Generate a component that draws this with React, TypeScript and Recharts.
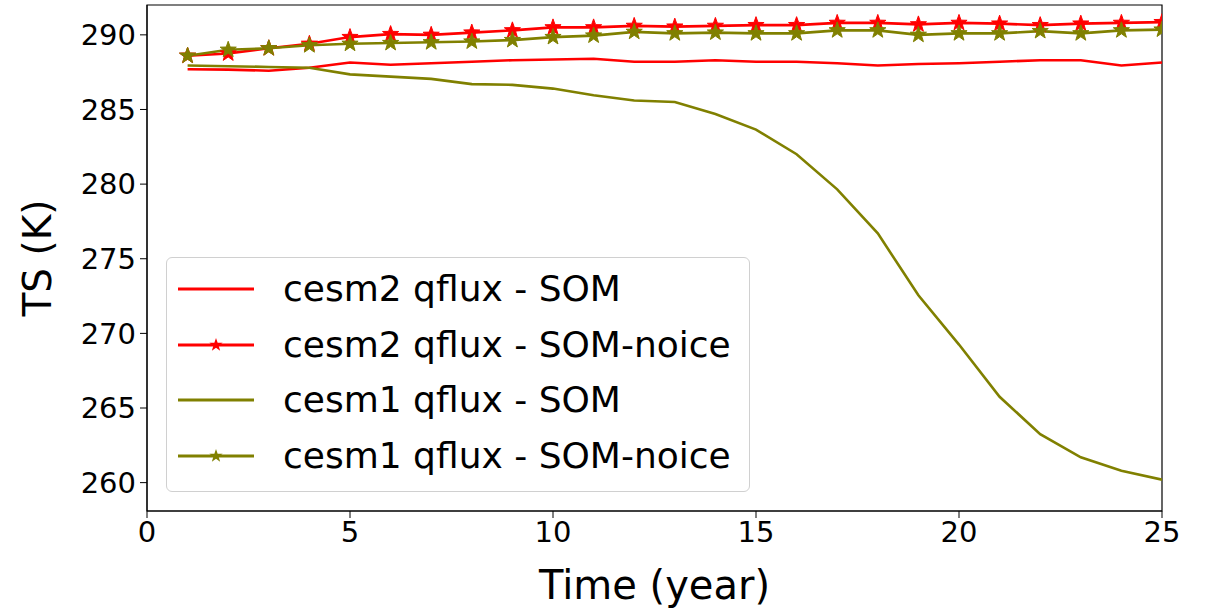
import React from 'react';
import { LineChart, Line, XAxis, YAxis, Legend, ReferenceArea } from 'recharts';

// 年份 (x)
const years = [1, 2, 3, 4, 5, 6, 7, 8, 9, 10, 11, 12, 13, 14, 15, 16, 17, 18, 19, 20, 21, 22, 23, 24, 25];

// TS (K) 各序列
const cesm2Som = [287.7, 287.67, 287.6, 287.8, 288.15, 288.0, 288.1, 288.2, 288.3, 288.35, 288.4, 288.2, 288.2, 288.3, 288.2, 288.2, 288.1, 287.95, 288.05, 288.1, 288.2, 288.3, 288.3, 287.95, 288.15];
const cesm2Noice = [288.6, 288.75, 289.1, 289.4, 289.85, 290.05, 290.0, 290.15, 290.3, 290.5, 290.5, 290.6, 290.55, 290.6, 290.65, 290.65, 290.8, 290.8, 290.7, 290.8, 290.75, 290.65, 290.75, 290.8, 290.85];
const cesm1Som = [287.95, 287.9, 287.85, 287.8, 287.35, 287.2, 287.05, 286.7, 286.65, 286.4, 285.95, 285.6, 285.5, 284.7, 283.65, 282.0, 279.65, 276.7, 272.55, 269.25, 265.75, 263.25, 261.7, 260.8, 260.2];
const cesm1Noice = [288.6, 289.0, 289.1, 289.3, 289.4, 289.45, 289.5, 289.55, 289.65, 289.85, 289.95, 290.2, 290.1, 290.15, 290.1, 290.1, 290.3, 290.3, 290.0, 290.1, 290.1, 290.25, 290.1, 290.3, 290.35];

const xTicks = [0, 5, 10, 15, 20, 25];
const yTicks = [260, 265, 270, 275, 280, 285, 290];
const Y_MIN = 258.1;
const Y_MAX = 292;

const RED = '#ff0000';
const OLIVE = '#808000';
const FONT = 'DejaVu Sans';

const SERIES = [
  { key: 'cesm2Som', name: 'cesm2 qflux - SOM', color: RED, star: false },
  { key: 'cesm2Noice', name: 'cesm2 qflux - SOM-noice', color: RED, star: true },
  { key: 'cesm1Som', name: 'cesm1 qflux - SOM', color: OLIVE, star: false },
  { key: 'cesm1Noice', name: 'cesm1 qflux - SOM-noice', color: OLIVE, star: true },
];

const chartData = years.map((year, i) => ({
  year,
  cesm2Som: cesm2Som[i],
  cesm2Noice: cesm2Noice[i],
  cesm1Som: cesm1Som[i],
  cesm1Noice: cesm1Noice[i],
}));

// 五角星标记 (matplotlib '*')
function starPoints(cx: number, cy: number, r: number) {
  const inner = r * 0.4;
  const pts: string[] = [];
  for (let k = 0; k < 10; k++) {
    const rad = k % 2 === 0 ? r : inner;
    const a = -Math.PI / 2 + (k * Math.PI) / 5;
    pts.push(`${cx + rad * Math.cos(a)},${cy + rad * Math.sin(a)}`);
  }
  return pts.join(' ');
}

function makeStarDot(color: string) {
  return (props: any) => {
    const { cx, cy, index } = props;
    if (cx == null || cy == null) return <g key={`s-${index}`} />;
    return (
      <polygon
        key={`s-${index}`}
        points={starPoints(cx, cy, 8.5)}
        fill={color}
        stroke={color}
        strokeWidth={1}
      />
    );
  };
}

function renderLegend() {
  return (
    <div
      style={{
        width: 584,
        height: 235,
        boxSizing: 'border-box',
        border: '1.5px solid #d0d0d0',
        borderRadius: 6,
        background: 'rgba(255,255,255,0.85)',
        fontFamily: FONT,
        fontSize: 36,
        color: '#000',
        position: 'relative',
      }}
    >
      {SERIES.map((s, i) => (
        <div
          key={s.key}
          style={{ position: 'absolute', left: 0, top: 31 + i * 55.5 - 20, height: 40, display: 'flex', alignItems: 'center' }}
        >
          <svg width={100} height={40} style={{ display: 'block' }}>
            <line x1={11} y1={20} x2={87} y2={20} stroke={s.color} strokeWidth={3} />
            {s.star && <polygon points={starPoints(49, 20, 7)} fill={s.color} />}
          </svg>
          <span style={{ marginLeft: 16, whiteSpace: 'nowrap', lineHeight: '40px' }}>{s.name}</span>
        </div>
      ))}
    </div>
  );
}

export default function App() {
  return (
    <div style={{ position: 'absolute', left: 0, top: 0, width: 1207, height: 608, background: '#fff' }}>
      <LineChart
        width={1207}
        height={608}
        data={chartData}
        margin={{ top: 5, right: 45, bottom: 0, left: 0 }}
      >
        <XAxis
          dataKey="year"
          type="number"
          domain={[0, 25]}
          ticks={xTicks}
          allowDataOverflow
          height={97}
          stroke="#000"
          tickSize={7}
          tick={{ fontSize: 29, fill: '#000', fontFamily: FONT }}
          tickMargin={3}
          label={{ value: 'Time (year)', position: 'insideBottom', offset: 9, fontSize: 40, fill: '#000', fontFamily: FONT }}
        />
        <YAxis
          type="number"
          domain={[Y_MIN, Y_MAX]}
          ticks={yTicks}
          allowDataOverflow
          width={147}
          stroke="#000"
          tickSize={7}
          tick={{ fontSize: 29, fill: '#000', fontFamily: FONT }}
          tickMargin={4}
          label={{ value: 'TS (K)', angle: -90, position: 'insideLeft', offset: 0, dx: 37, fontSize: 39, fill: '#000', fontFamily: FONT, style: { textAnchor: 'middle' } }}
        />
        {/* 外框 */}
        <ReferenceArea x1={0} x2={25} y1={Y_MIN} y2={Y_MAX} fill="none" stroke="#000" strokeWidth={1.2} />
        {SERIES.map((s) => (
          <Line
            key={s.key}
            dataKey={s.key}
            name={s.name}
            type="linear"
            stroke={s.color}
            strokeWidth={2.6}
            dot={s.star ? makeStarDot(s.color) : false}
            activeDot={false}
            isAnimationActive={false}
          />
        ))}
        <Legend
          layout="vertical"
          align="center"
          verticalAlign="middle"
          content={renderLegend}
          wrapperStyle={{ left: 166, top: 257, width: 584, height: 235 }}
        />
      </LineChart>
    </div>
  );
}
